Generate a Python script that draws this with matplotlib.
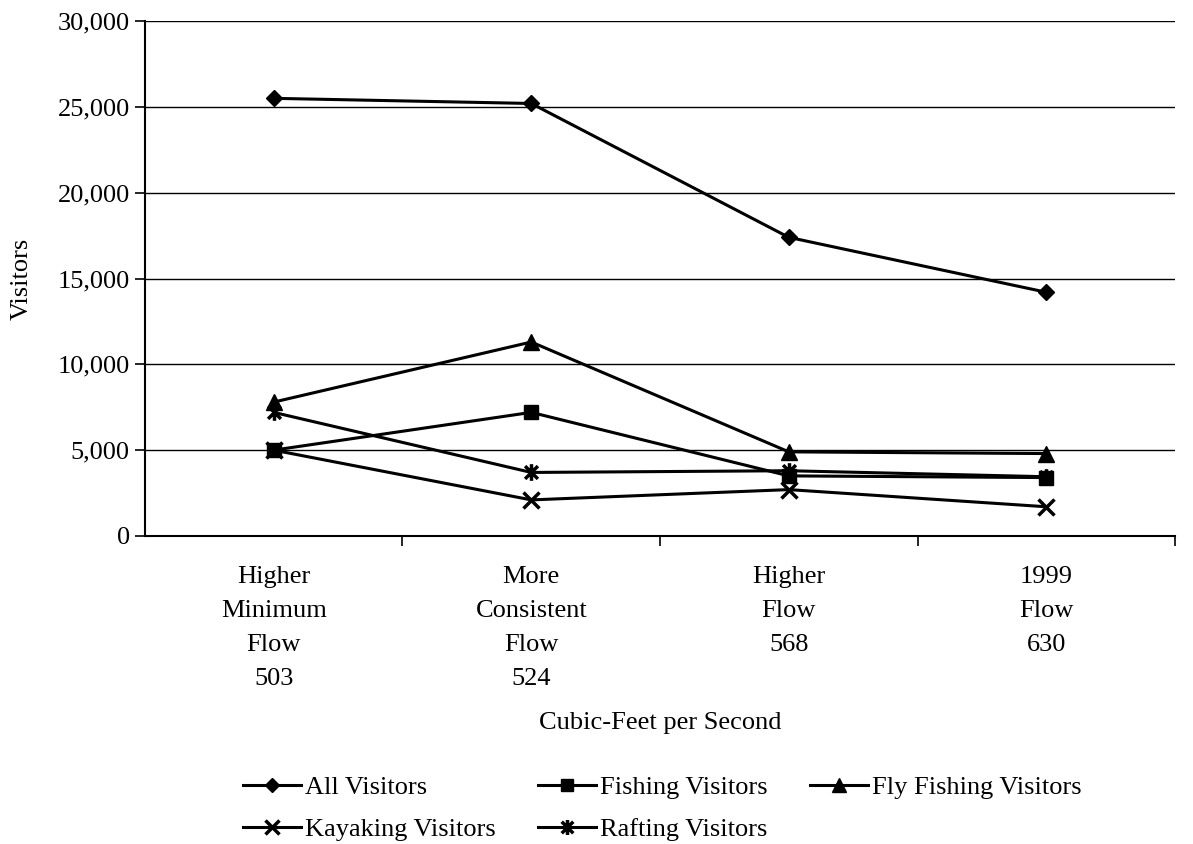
import matplotlib
matplotlib.use('Agg')
import matplotlib.pyplot as plt
from matplotlib.path import Path
from matplotlib.ticker import FuncFormatter

plt.rcParams['font.family'] = ['Liberation Serif', 'DejaVu Serif']

categories = ['Higher\nMinimum\nFlow\n503', 'More\nConsistent\nFlow\n524',
              'Higher\nFlow\n568', '1999\nFlow\n630']

all_visitors = [25500, 25200, 17400, 14200]
fishing = [5000, 7200, 3500, 3400]
fly_fishing = [7800, 11300, 4900, 4800]
kayaking = [5000, 2100, 2700, 1700]
rafting = [7200, 3700, 3800, 3450]

# asterisk = x with a vertical bar (Excel style)
star = Path([(-1, -1), (1, 1), (-1, 1), (1, -1), (0, -1.3), (0, 1.3)],
            [Path.MOVETO, Path.LINETO, Path.MOVETO, Path.LINETO, Path.MOVETO, Path.LINETO])

fig = plt.figure(figsize=(11.93, 8.44), dpi=100)
ax = fig.add_axes([0.1215, 0.365, 0.8635, 0.61])

x = range(len(categories))
lw = 2.2
h_all, = ax.plot(x, all_visitors, color='black', lw=lw, marker='D', ms=8, label='All Visitors')
h_fish, = ax.plot(x, fishing, color='black', lw=lw, marker='s', ms=10, label='Fishing Visitors')
h_fly, = ax.plot(x, fly_fishing, color='black', lw=lw, marker='^', ms=11, label='Fly Fishing Visitors')
h_kay, = ax.plot(x, kayaking, color='black', lw=lw, marker='x', ms=11, mew=2.5, label='Kayaking Visitors')
h_raf, = ax.plot(x, rafting, color='black', lw=lw, marker=star, ms=12, mew=2.5, label='Rafting Visitors')

ax.set_xlim(-0.5, 3.5)
ax.set_ylim(0, 30000)
ax.set_yticks(range(0, 30001, 5000))
ax.yaxis.set_major_formatter(FuncFormatter(lambda v, p: f'{int(v):,}'))
ax.yaxis.grid(True, color='black', lw=1)
ax.set_axisbelow(True)

ax.set_xticks(list(x))
ax.set_xticklabels(categories, fontsize=19, linespacing=1.7)
ax.set_xticks([0.5, 1.5, 2.5, 3.5], minor=True)
ax.tick_params(axis='x', which='major', length=0, pad=22)
ax.tick_params(axis='x', which='minor', length=7, width=1.2, direction='out')
ax.tick_params(axis='y', length=7, width=1.2, direction='out', labelsize=19, pad=4)

for s in ['top', 'right']:
    ax.spines[s].set_visible(False)
ax.spines['left'].set_linewidth(1.5)
ax.spines['bottom'].set_linewidth(1.5)

ax.set_ylabel('Visitors', fontsize=19, labelpad=18)
ax.set_xlabel('Cubic-Feet per Second', fontsize=19, labelpad=16)

fig.legend([h_all, h_kay, h_fish, h_raf, h_fly],
           ['All Visitors', 'Kayaking Visitors', 'Fishing Visitors', 'Rafting Visitors',
            'Fly Fishing Visitors'],
           ncol=3, frameon=False, fontsize=19, loc='lower center',
           bbox_to_anchor=(0.555, -0.025), handlelength=2.2, columnspacing=1.6,
           handletextpad=0.15, labelspacing=0.7, markerscale=0.9)

fig.savefig('out.png', dpi=100)
